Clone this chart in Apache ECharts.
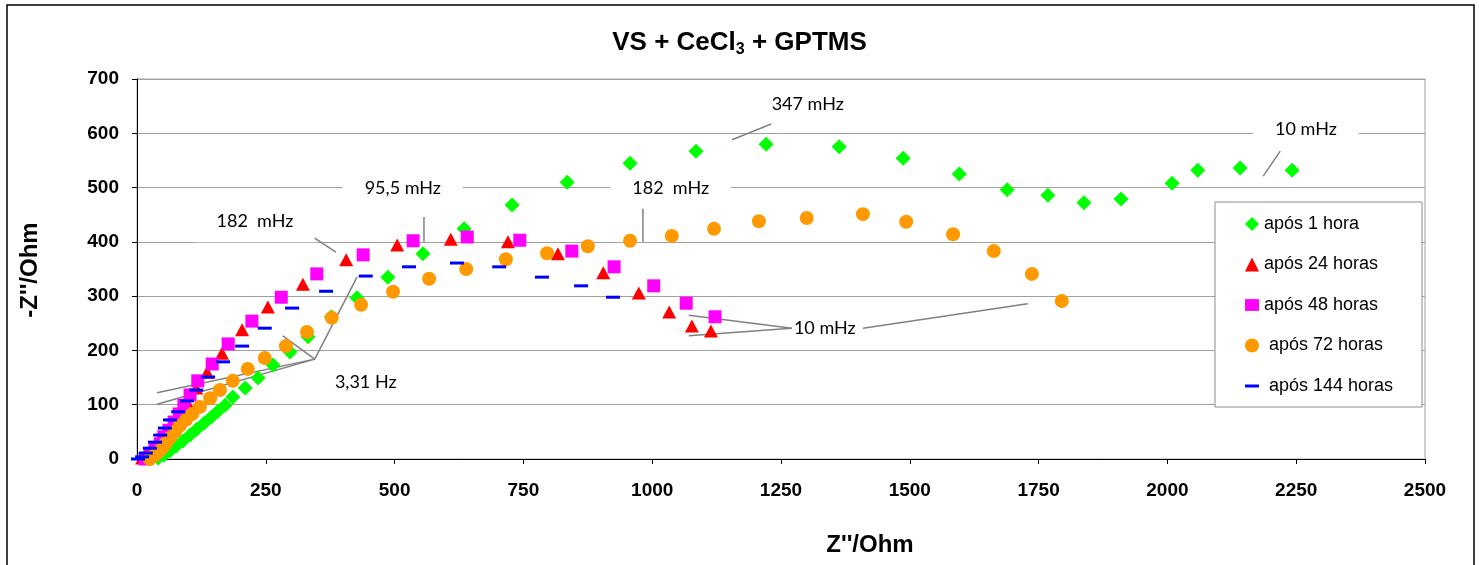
<!DOCTYPE html>
<html><head><meta charset="utf-8">
<script src="https://cdn.jsdelivr.net/npm/echarts/dist/echarts.min.js"></script>
<style>html,body{margin:0;padding:0;background:#fff}#c{width:1479px;height:565px}</style>
</head><body><div id="c"></div>
<script>
// ---- data (Z' , -Z'') ----
const names = ['após 1 hora', 'após 24 horas', 'após 48 horas', 'após 72 horas', 'após 144 horas'];
const s1h = [[2242,532],[2141,536],[2059,532],[2009,508],[1910,479],[1838,472],[1768,486],[1689,496],[1596,525],[1487,554],[1363,575],[1221,580],[1085,567],[957,545],[835,510],[728,468],[635,424],[555,378],[487,335],[427,297],[377,262],[332,225],[297,197],[264,173],[235,149],[210,131],[186,114],[171,99],[157,88],[144,77],[130,66],[116,55],[103,44],[89,33],[76,24],[64,15],[52,7],[41,2]];
const s24h = [[1114,236],[1077,245],[1033,271],[974,306],[905,343],[817,378],[720,400],[609,405],[505,394],[406,367],[322,322],[254,280],[204,238],[165,195],[136,160],[115,131],[97,105],[82,79],[66,57],[50,39],[35,22],[21,11],[10,2],[4,-2]];
const s48h = [[1122,262],[1066,287],[1003,319],[926,354],[844,383],[743,403],[641,409],[536,402],[439,376],[349,341],[280,298],[223,254],[177,212],[146,175],[118,144],[103,118],[91,99],[82,83],[72,68],[62,53],[52,41],[45,28],[35,17],[25,7],[16,0]];
const s72h = [[1795,291],[1737,341],[1663,383],[1584,414],[1493,437],[1409,451],[1300,444],[1207,438],[1120,424],[1038,411],[957,402],[875,392],[796,379],[716,368],[639,350],[567,332],[497,308],[435,284],[378,260],[330,234],[289,208],[248,186],[215,166],[186,144],[161,127],[142,112],[122,96],[107,83],[95,72],[83,61],[74,50],[64,39],[56,29],[49,20],[41,13],[33,6],[25,0]];
const s144h = [[924,298],[862,319],[786,335],[703,354],[621,361],[528,354],[444,337],[367,309],[301,278],[248,241],[204,208],[167,179],[138,151],[115,127],[97,107],[80,87],[64,72],[54,57],[45,44],[35,31],[25,20],[17,11],[10,4],[2,0]];
const xTicks = [0,250,500,750,1000,1250,1500,1750,2000,2250,2500];
const yTicks = [0,100,200,300,400,500,600,700];
// annotations in data units
const annLines = [
  [[39,122],[345,184]], [[39,101],[345,184]], [[283,227],[345,184]], [[345,184],[427,335]],
  [[345,407],[386,381]], [[557,446],[557,400]], [[1155,588],[1231,617]], [[982,461],[982,400]],
  [[2186,521],[2219,567]], [[1071,265],[1271,241]], [[1071,227],[1271,241]], [[1409,241],[1729,286]]
];
const annTexts = [
  ['3,31 Hz', 444, 142, false], ['182  mHz', 229, 438, true], ['95,5 mHz', 516, 499, true],
  ['347 mHz', 1302, 654, false], ['182  mHz', 1036, 499, true], ['10 mHz', 2269, 608, true],
  ['10 mHz', 1335, 241, false]
];

const chart = echarts.init(document.getElementById('c'));
const F = '"Liberation Sans", Arial, sans-serif';
const mk = (name, data, symbol, size, color) => ({
  name, type: 'scatter', data, symbol, symbolSize: size,
  itemStyle: { color, opacity: 1 }, emphasis: { disabled: true }, animation: false
});
chart.setOption({
  animation: false,
  backgroundColor: '#fff',
  title: {
    text: '{a|VS + CeCl}{b|3}{a| + GPTMS}', left: 'center', top: 28, padding: 0,
    textStyle: { rich: {
      a: { fontFamily: F, fontWeight: 'bold', fontSize: 26, color: '#000', lineHeight: 30 },
      b: { fontFamily: F, fontWeight: 'bold', fontSize: 16, color: '#000', verticalAlign: 'bottom' }
    } }
  },
  grid: { left: 137, right: 54, top: 79, bottom: 106, show: true, borderColor: '#a0a0a0', borderWidth: 1, containLabel: false, outerBoundsMode: 'none' },
  xAxis: {
    type: 'value', min: xTicks[0], max: xTicks[xTicks.length - 1], interval: 250,
    axisLine: { show: true, onZero: false, lineStyle: { color: '#000', width: 1 } },
    axisTick: { show: true, inside: false, length: 5, lineStyle: { color: '#000' } },
    axisLabel: { margin: 22, color: '#000', fontFamily: F, fontWeight: 'bold', fontSize: 19, formatter: v => String(v) },
    splitLine: { show: false }
  },
  yAxis: {
    type: 'value', min: yTicks[0], max: yTicks[yTicks.length - 1], interval: 100,
    axisLine: { show: true, onZero: false, lineStyle: { color: '#000', width: 1 } },
    axisTick: { show: true, inside: false, length: 5, lineStyle: { color: '#000' } },
    axisLabel: { margin: 18, color: '#000', fontFamily: F, fontWeight: 'bold', fontSize: 19, formatter: v => String(v) },
    splitLine: { show: true, lineStyle: { color: '#a0a0a0', width: 1 } }
  },
  legend: {
    orient: 'vertical', left: 1245, top: 215, itemWidth: 14, itemHeight: 14, itemGap: 22.5,
    padding: 0, selectedMode: false,
    textStyle: { fontFamily: F, fontSize: 18, color: '#000' },
    formatter: n => (n === names[3] || n === names[4]) ? ' ' + n : n,
    data: [
      { name: names[0], icon: 'diamond' },
      { name: names[1], icon: 'triangle' },
      { name: names[2], icon: 'path://M0,0h13v11h-13z' },
      { name: names[3], icon: 'circle' },
      { name: names[4], icon: 'path://M0,0h14v3h-14z' }
    ]
  },
  series: [
    mk(names[0], s1h, 'diamond', 15, '#00ff00'),
    mk(names[1], s24h, 'triangle', [14, 13], '#ff0000'),
    mk(names[2], s48h, 'rect', 13, '#ff00ff'),
    mk(names[3], s72h, 'circle', 14, '#ff9900'),
    mk(names[4], s144h, 'rect', [14, 3], '#0000ff')
  ]
});

const P = p => chart.convertToPixel({ gridIndex: 0 }, p);
const g = [];
g.push({ type: 'rect', z: 0, shape: { x: 7, y: 5, width: 1467, height: 600 }, style: { fill: 'none', stroke: '#000', lineWidth: 1.5 }, silent: true });
annTexts.forEach(t => {
  const p = P([t[1], t[2]]);
  g.push({ type: 'text', x: p[0], y: p[1], z: 1, silent: true,
    style: { text: t[0], font: '18px Lato, "Liberation Sans", sans-serif', fill: '#000',
      align: 'center', verticalAlign: 'middle', textAlign: 'center', textVerticalAlign: 'middle',
      backgroundColor: t[3] ? '#fff' : 'transparent', padding: [12, 22, 12, 22] } });
});
annLines.forEach(l => {
  const a = P(l[0]), b = P(l[1]);
  g.push({ type: 'line', z: 1, silent: true, shape: { x1: a[0], y1: a[1], x2: b[0], y2: b[1] }, style: { stroke: '#808080', lineWidth: 1.5 } });
});
g.push({ type: 'rect', z: 3, silent: true, shape: { x: 1215, y: 202, width: 207, height: 205 }, style: { fill: '#fff', stroke: '#8c8c8c', lineWidth: 1 } });
g.push({ type: 'text', x: 30, y: 270, rotation: Math.PI / 2, silent: true,
  style: { text: "-Z''/Ohm", font: 'bold 24px "Liberation Sans", Arial', fill: '#000', align: 'center', verticalAlign: 'middle', textAlign: 'center', textVerticalAlign: 'middle' } });
g.push({ type: 'text', x: 870, y: 545, silent: true,
  style: { text: "Z''/Ohm", font: 'bold 24px "Liberation Sans", Arial', fill: '#000', align: 'center', verticalAlign: 'middle', textAlign: 'center', textVerticalAlign: 'middle' } });
chart.setOption({ graphic: g });
</script></body></html>
